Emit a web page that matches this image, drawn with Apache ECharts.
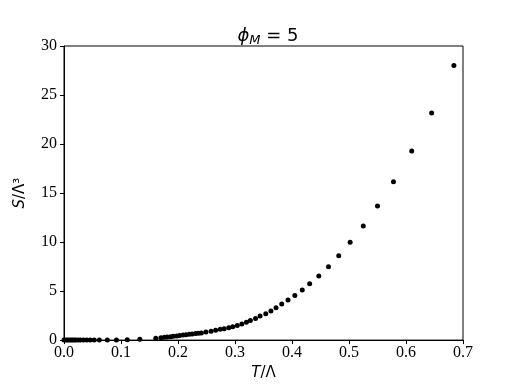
<!DOCTYPE html>
<html>
<head>
<meta charset="utf-8">
<script src="https://cdn.jsdelivr.net/npm/echarts@6/dist/echarts.min.js"></script>
<style>
  html, body { margin: 0; padding: 0; background: #fff; }
  #main { width: 515px; height: 386px; }
</style>
</head>
<body>
<div id="main"></div>
<script>
// T/Λ values (x)
var tValues = [0.000, 0.003, 0.006, 0.009, 0.012, 0.015, 0.018, 0.021, 0.025, 0.029,
  0.034, 0.040, 0.046, 0.053, 0.062, 0.076, 0.092, 0.111, 0.133, 0.161,
  0.170, 0.176, 0.181, 0.187, 0.192, 0.198, 0.203, 0.209, 0.214, 0.220,
  0.225, 0.231, 0.236, 0.241, 0.249, 0.258, 0.266, 0.274, 0.281, 0.289,
  0.296, 0.304, 0.312, 0.320, 0.327, 0.336, 0.344, 0.354, 0.363, 0.372,
  0.382, 0.393, 0.405, 0.418, 0.431, 0.447, 0.464, 0.482, 0.502, 0.525,
  0.550, 0.578, 0.610, 0.645, 0.684];
// S/Λ^3 values (y)
var sValues = [0.00, 0.00, 0.00, 0.00, 0.00, 0.00, 0.00, 0.00, 0.00, 0.00,
  0.00, 0.00, 0.00, 0.00, 0.00, 0.01, 0.02, 0.04, 0.08, 0.19,
  0.25, 0.28, 0.31, 0.35, 0.39, 0.43, 0.47, 0.51, 0.55, 0.59,
  0.63, 0.67, 0.70, 0.73, 0.83, 0.90, 1.00, 1.10, 1.17, 1.27,
  1.37, 1.50, 1.64, 1.81, 2.01, 2.21, 2.45, 2.69, 2.96, 3.30,
  3.67, 4.08, 4.54, 5.12, 5.76, 6.53, 7.48, 8.60, 9.97, 11.63,
  13.67, 16.15, 19.30, 23.16, 28.00];
var xTicks = [0, 0.1, 0.2, 0.3, 0.4, 0.5, 0.6, 0.7];
var yTicks = [0, 5, 10, 15, 20, 25, 30];

var points = [];
for (var i = 0; i < tValues.length; i++) {
  points.push([tValues[i], sValues[i]]);
}

var tickFont = {
  color: '#000',
  fontFamily: 'Liberation Serif',
  fontSize: 16
};

var myChart = echarts.init(document.getElementById('main'));
myChart.setOption({
  animation: false,
  backgroundColor: '#fff',
  title: {
    text: '{i|ϕ}{s|M}{n| = 5}',
    left: 263,
    top: 21,
    textAlign: 'center',
    textStyle: {
      fontWeight: 'normal',
      rich: {
        i: { fontFamily: 'DejaVu Sans', fontStyle: 'italic', fontWeight: 'normal', fontSize: 18, color: '#000' },
        s: { fontFamily: 'DejaVu Sans', fontStyle: 'italic', fontWeight: 'normal', fontSize: 13, color: '#000', padding: [8, 0, 0, 0] },
        n: { fontFamily: 'DejaVu Sans', fontWeight: 'normal', fontSize: 18, color: '#000' }
      }
    }
  },
  grid: {
    left: 64,
    right: 52,
    top: 46,
    bottom: 44,
    show: true,
    borderColor: '#000',
    borderWidth: 1
  },
  xAxis: {
    type: 'value',
    min: xTicks[0],
    max: xTicks[xTicks.length - 1],
    interval: 0.1,
    name: '{i|T}{n|/Λ}',
    nameLocation: 'middle',
    nameGap: 8,
    nameTextStyle: {
      rich: {
        i: { fontFamily: 'DejaVu Sans', fontStyle: 'italic', fontSize: 15, color: '#000' },
        n: { fontFamily: 'DejaVu Sans', fontSize: 15, color: '#000' }
      }
    },
    axisLine: { lineStyle: { color: '#000', width: 1 } },
    axisTick: { inside: false, length: 4, lineStyle: { color: '#000' } },
    axisLabel: Object.assign({ margin: 5, formatter: function(v) { return v.toFixed(1); } }, tickFont),
    splitLine: { show: false }
  },
  yAxis: {
    type: 'value',
    min: yTicks[0],
    max: yTicks[yTicks.length - 1],
    interval: 5,
    name: '{i|S}{n|/Λ³}',
    nameLocation: 'middle',
    nameRotate: 90,
    nameGap: 36,
    nameTextStyle: {
      rich: {
        i: { fontFamily: 'DejaVu Sans', fontStyle: 'italic', fontSize: 15, color: '#000' },
        n: { fontFamily: 'DejaVu Sans', fontSize: 15, color: '#000' }
      }
    },
    axisLine: { show: true, lineStyle: { color: '#000', width: 1 } },
    axisTick: { show: true, inside: false, length: 4, lineStyle: { color: '#000' } },
    axisLabel: Object.assign({ margin: 7 }, tickFont),
    splitLine: { show: false }
  },
  series: [{
    type: 'scatter',
    data: points,
    symbol: 'circle',
    symbolSize: 5,
    itemStyle: { color: '#000', opacity: 1 },
    clip: false
  }]
});
</script>
</body>
</html>
